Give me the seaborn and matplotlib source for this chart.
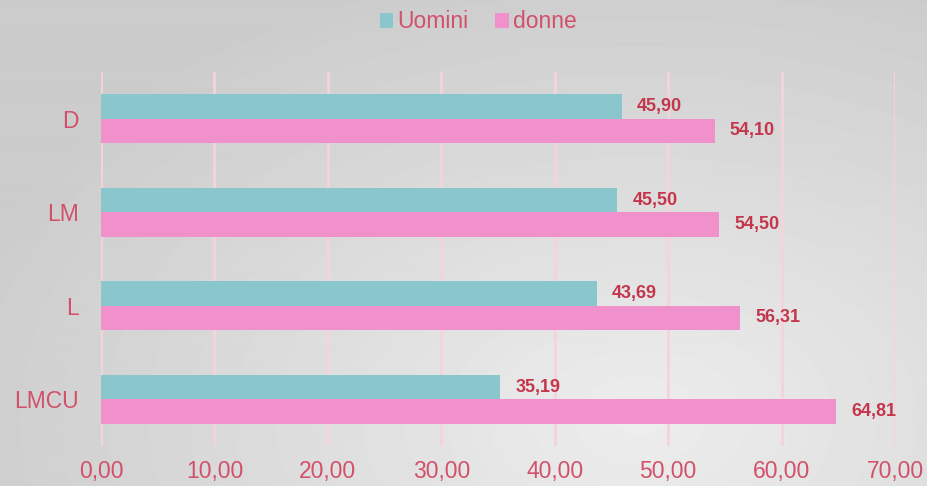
import numpy as np
import pandas as pd
import matplotlib
matplotlib.use("Agg")
import matplotlib.pyplot as plt
import seaborn as sns

categories = ["D", "LM", "L", "LMCU"]
uomini = [45.90, 45.50, 43.69, 35.19]
donne = [54.10, 54.50, 56.31, 64.81]
series = ["Uomini", "donne"]
xticks = [0, 10, 20, 30, 40, 50, 60, 70]

teal = "#8AC7CD"
pink = "#F091CC"
label_red = "#D2506A"
value_red = "#C4364C"
grid_pink = "#F6D3DB"

df = pd.DataFrame({
    "cat": categories * 2,
    "val": uomini + donne,
    "sesso": [series[0]] * 4 + [series[1]] * 4,
})

sns.set_style("white")
plt.rcParams["font.family"] = ["Liberation Sans", "DejaVu Sans"]

fig = plt.figure(figsize=(9.28, 4.86), dpi=100)

# radial grey background
bg = fig.add_axes([0, 0, 1, 1], zorder=0)
yy, xx = np.mgrid[0:486, 0:928]
r = np.sqrt(((xx - 640) / 928) ** 2 + ((yy - 420) / 600) ** 2)
shade = np.clip(0.93 - 0.17 * r, 0.80, 0.93)
bg.imshow(shade, cmap="gray", vmin=0, vmax=1, aspect="auto", extent=[0, 1, 0, 1])
bg.axis("off")

ax = fig.add_axes([101 / 928, 1 - 446 / 486, 794 / 928, 374 / 486], zorder=1)
ax.patch.set_alpha(0)
sns.barplot(data=df, y="cat", x="val", hue="sesso", orient="h",
            palette=[teal, pink], width=0.52, order=categories,
            hue_order=series, ax=ax, saturation=1, edgecolor="none")

ax.set_xlim(0, 70)
ax.set_ylim(3.5, -0.5)
ax.set_xticks(xticks)
ax.set_xticklabels([f"{v:.2f}".replace(".", ",") for v in xticks])
ax.set_xlabel("")
ax.set_ylabel("")
for s in ax.spines.values():
    s.set_visible(False)
ax.grid(axis="x", color=grid_pink, linewidth=2)
ax.set_axisbelow(True)
ax.tick_params(axis="x", length=0, pad=10, labelsize=16.5, labelcolor=label_red)
ax.tick_params(axis="y", length=0, pad=16, labelsize=16.5, labelcolor=label_red)

for cont in ax.containers:
    ax.bar_label(cont, labels=[f"{v:.2f}".replace(".", ",") for v in cont.datavalues],
                 padding=11, color=value_red, fontsize=13, fontweight="bold")

leg = ax.legend(loc="center", bbox_to_anchor=(0.5 - 20 / 794, 1 + 50 / 374), ncol=2,
                frameon=False, handlelength=0.6, handleheight=0.6,
                handletextpad=0.15, columnspacing=1.2, fontsize=16.5)
for t in leg.get_texts():
    t.set_color(label_red)

fig.savefig("out.png", dpi=100)
